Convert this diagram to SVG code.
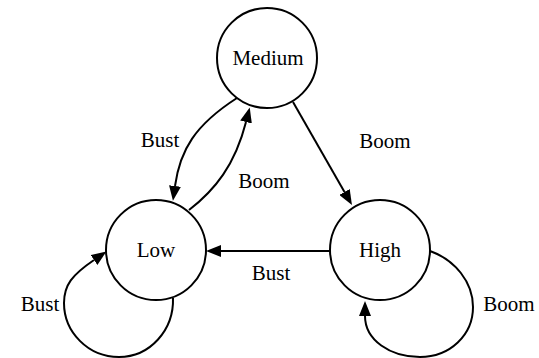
<svg xmlns="http://www.w3.org/2000/svg" width="539" height="358" viewBox="0 0 539 358">
  <style>
    .state { fill: #ffffff; stroke: #000000; stroke-width: 2; }
    .edge { fill: none; stroke: #000000; stroke-width: 2; marker-end: url(#arrow); }
  </style>
  <defs>
    <marker id="arrow" markerUnits="userSpaceOnUse" markerWidth="15" markerHeight="12" refX="0" refY="6" orient="auto">
      <path d="M0,0 L15,6 L0,12 z" fill="#000000"/>
    </marker>
  </defs>
  <rect width="539" height="358" fill="#ffffff"/>

  <g id="diagram" style="font-family: 'Liberation Serif', serif; font-size: 21px; text-anchor: middle;">
    <g id="connectors">
      <!-- Medium -> High : Boom -->
      <path class="edge" d="M293,102 L344.5,192"/>
      <text x="385" y="148">Boom</text>
      <!-- Medium -> Low : Bust -->
      <path class="edge" d="M237,98 C195,125 180,150 175,186"/>
      <text x="160" y="147">Bust</text>
      <!-- Low -> Medium : Boom -->
      <path class="edge" d="M189,210 C215,190 235,165 246,122"/>
      <text x="264" y="188">Boom</text>
      <!-- High -> Low : Bust -->
      <path class="edge" d="M330,251 L221,251"/>
      <text x="271" y="280">Bust</text>
      <!-- Low -> Low : Bust -->
      <path class="edge" d="M173,298 C174,330 150,357 119,357 C88,357 64,332 64,303 C64,285 72,275 94,260"/>
      <text x="40" y="311">Bust</text>
      <!-- High -> High : Boom -->
      <path class="edge" d="M430,251 C455,260 473,282 473,307 C473,335 450,357 420,357 C390,357 365,340 365,316"/>
      <text x="509" y="311">Boom</text>
    </g>

    <g id="node-medium">
      <circle class="state" cx="267" cy="58" r="50"/>
      <text x="268" y="65">Medium</text>
    </g>
    <g id="node-low">
      <circle class="state" cx="156" cy="250" r="50"/>
      <text x="156" y="257">Low</text>
    </g>
    <g id="node-high">
      <circle class="state" cx="380" cy="250" r="50"/>
      <text x="380" y="257">High</text>
    </g>
  </g>
</svg>
